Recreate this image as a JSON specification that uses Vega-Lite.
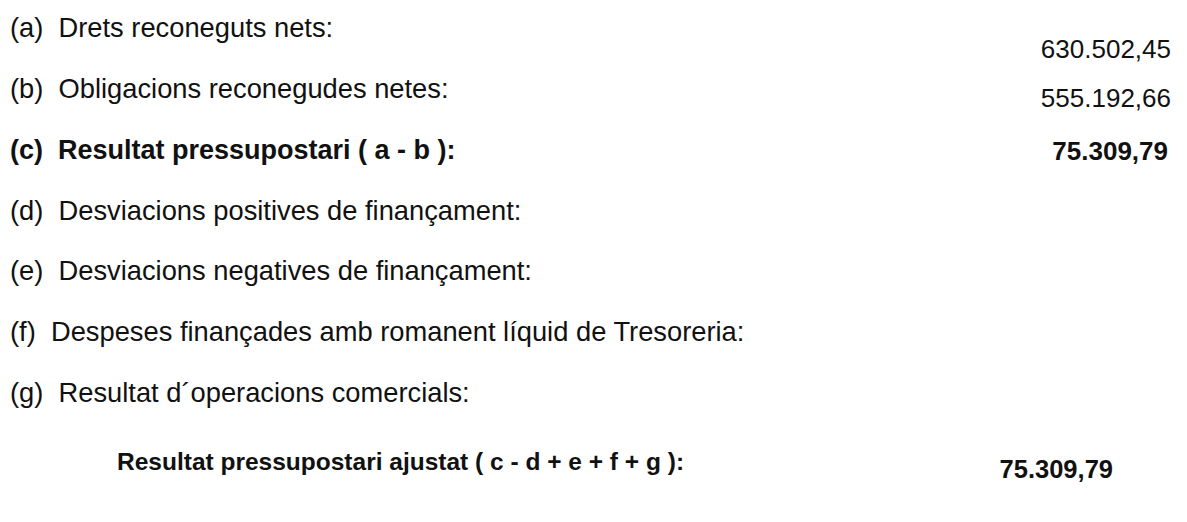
{
  "$schema": "https://vega.github.io/schema/vega-lite/v6.json",
  "width": 1187,
  "height": 522,
  "autosize": {"type": "none"},
  "padding": 0,
  "background": "white",
  "config": {"view": {"stroke": null}, "text": {"font": "Liberation Sans", "color": "#111111"}},
  "data": {
    "values": [
      {"code": "a", "label": "(a)\u00a0 Drets reconeguts nets:", "value": "630.502,45", "weight": "normal"},
      {"code": "b", "label": "(b)\u00a0 Obligacions reconegudes netes:", "value": "555.192,66", "weight": "normal"},
      {"code": "c", "label": "(c)\u00a0 Resultat pressupostari ( a - b ):", "value": "75.309,79", "weight": "bold"},
      {"code": "d", "label": "(d)\u00a0 Desviacions positives de finançament:", "value": "", "weight": "normal"},
      {"code": "e", "label": "(e)\u00a0 Desviacions negatives de finançament:", "value": "", "weight": "normal"},
      {"code": "f", "label": "(f)\u00a0 Despeses finançades amb romanent líquid de Tresoreria:", "value": "", "weight": "normal"},
      {"code": "g", "label": "(g)\u00a0 Resultat d´operacions comercials:", "value": "", "weight": "normal"},
      {"code": "total", "label": "Resultat pressupostari ajustat ( c - d + e + f + g ):", "value": "75.309,79", "weight": "bold"}
    ]
  },
  "encoding": {
    "y": {"field": "code", "type": "nominal", "scale": {"type": "point", "domain": ["a", "b", "c", "d", "e", "f", "g", "total"], "range": [29, 455], "padding": 0}, "axis": null}
  },
  "layer": [
    {
      "transform": [{"filter": "datum.code != 'total' && datum.weight == 'normal'"}],
      "mark": {"type": "text", "align": "left", "baseline": "middle", "fontSize": 27.3},
      "encoding": {
        "x": {"datum": "label", "type": "nominal", "scale": {"type": "point", "domain": ["label", "value"], "range": [10, 1171], "padding": 0}, "axis": null},
        "text": {"field": "label"}
      }
    },
    {
      "transform": [{"filter": "datum.code == 'c'"}],
      "mark": {"type": "text", "align": "left", "baseline": "middle", "fontSize": 27, "fontWeight": "bold"},
      "encoding": {
        "x": {"datum": "label", "type": "nominal", "axis": null},
        "text": {"field": "label"}
      }
    },
    {
      "transform": [{"filter": "datum.code == 'a'"}],
      "mark": {"type": "text", "align": "right", "baseline": "middle", "fontSize": 26},
      "encoding": {
        "x": {"datum": "value", "type": "nominal", "axis": null},
        "yOffset": {"value": 21},
        "text": {"field": "value"}
      }
    },
    {
      "transform": [{"filter": "datum.code == 'b'"}],
      "mark": {"type": "text", "align": "right", "baseline": "middle", "fontSize": 26},
      "encoding": {
        "x": {"datum": "value", "type": "nominal", "axis": null},
        "yOffset": {"value": 9},
        "text": {"field": "value"}
      }
    },
    {
      "transform": [{"filter": "datum.code == 'c'"}],
      "mark": {"type": "text", "align": "right", "baseline": "middle", "fontSize": 26, "fontWeight": "bold"},
      "encoding": {
        "x": {"datum": "value", "type": "nominal", "axis": null},
        "xOffset": {"value": -3},
        "yOffset": {"value": 1},
        "text": {"field": "value"}
      }
    },
    {
      "transform": [{"filter": "datum.code == 'total'"}],
      "mark": {"type": "text", "align": "left", "baseline": "middle", "fontSize": 24.5, "fontWeight": "bold"},
      "encoding": {
        "x": {"datum": "label", "type": "nominal", "axis": null},
        "xOffset": {"value": 107},
        "yOffset": {"value": 8},
        "text": {"field": "label"}
      }
    },
    {
      "transform": [{"filter": "datum.code == 'total'"}],
      "mark": {"type": "text", "align": "right", "baseline": "middle", "fontSize": 25.5, "fontWeight": "bold"},
      "encoding": {
        "x": {"datum": "value", "type": "nominal", "axis": null},
        "xOffset": {"value": -58},
        "yOffset": {"value": 15},
        "text": {"field": "value"}
      }
    }
  ]
}
